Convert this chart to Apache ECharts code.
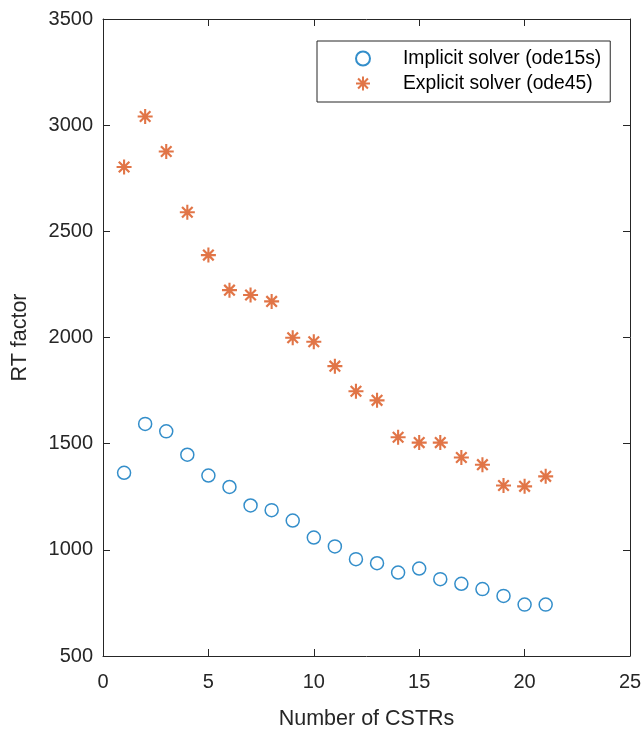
<!DOCTYPE html>
<html>
<head>
<meta charset="utf-8">
<script src="https://cdn.jsdelivr.net/npm/echarts@6/dist/echarts.min.js"></script>
<style>
  html, body { margin: 0; padding: 0; background: #ffffff; }
  #chart { width: 644px; height: 730px; }
</style>
</head>
<body>
<div id="chart"></div>
<script>
// ---- Data ----
const cstrCounts = [1, 2, 3, 4, 5, 6, 7, 8, 9, 10, 11, 12, 13, 14, 15, 16, 17, 18, 19, 20, 21];
const implicitRT = [1363, 1593, 1558, 1448, 1350, 1296, 1209, 1187, 1138, 1058, 1016, 956, 937, 893, 912, 862, 840, 815, 783, 742, 742];
const explicitRT = [2803, 3041, 2876, 2590, 2388, 2223, 2200, 2170, 1999, 1980, 1865, 1747, 1704, 1530, 1505, 1505, 1435, 1401, 1303, 1299, 1346];
const seriesNames = ['Implicit solver (ode15s)', 'Explicit solver (ode45)'];
const xName = 'Number of CSTRs';
const yName = 'RT factor';

// ---- Styling ----
const FONT = '"Liberation Sans", Arial, Helvetica, sans-serif';
const AX = '#262626';
const BLUE = '#0072BD';
const ORANGE = '#D95319';
const starPath = 'path://M43 0L57 0L57 100L43 100Z M0 43L100 43L100 57L0 57Z M9.5 20L20 9.5L90.5 80L80 90.5Z M80 9.5L90.5 20L20 90.5L9.5 80Z';

const pairs = (xs, ys) => xs.map((x, i) => [x, ys[i]]);

const chart = echarts.init(document.getElementById('chart'), null, { renderer: 'canvas' });

const baseX = {
  type: 'value', min: 0, max: 25, interval: 5,
  axisLine: { show: true, onZero: false, lineStyle: { color: AX, width: 1 } },
  axisTick: { show: true, inside: true, length: 7, lineStyle: { color: AX, width: 1 } },
  splitLine: { show: false }
};
const baseY = {
  type: 'value', min: 500, max: 3500, interval: 500,
  axisLine: { show: true, onZero: false, lineStyle: { color: AX, width: 1 } },
  axisTick: { show: true, inside: true, length: 7, lineStyle: { color: AX, width: 1 } },
  splitLine: { show: false }
};

chart.setOption({
  backgroundColor: '#ffffff',
  animation: false,
  textStyle: { fontFamily: FONT },
  grid: { left: 103, right: 14, top: 19, bottom: 74, containLabel: false, outerBoundsMode: 'none' },
  xAxis: [
    Object.assign({}, baseX, {
      position: 'bottom',
      name: xName, nameLocation: 'middle', nameGap: 52,
      nameTextStyle: { color: AX, fontSize: 21.5, fontFamily: FONT },
      axisLabel: { show: true, color: AX, fontSize: 20, fontFamily: FONT, margin: 16,
                   formatter: v => String(v) }
    }),
    Object.assign({}, baseX, { position: 'top', axisLabel: { show: false } })
  ],
  yAxis: [
    Object.assign({}, baseY, {
      position: 'left',
      name: yName, nameLocation: 'middle', nameGap: 72,
      nameTextStyle: { color: AX, fontSize: 21.5, fontFamily: FONT },
      axisLabel: { show: true, color: AX, fontSize: 20, fontFamily: FONT, margin: 10,
                   formatter: v => String(v) }
    }),
    Object.assign({}, baseY, { position: 'right', axisLabel: { show: false } })
  ],
  legend: {
    left: 317, top: 41,
    orient: 'vertical',
    data: seriesNames,
    itemWidth: 70, itemHeight: 14, itemGap: 6,
    padding: [8, 9, 9, 38],
    borderColor: AX, borderWidth: 1,
    backgroundColor: '#ffffff',
    textStyle: { color: '#000000', fontSize: 19.3, fontFamily: FONT }
  },
  series: [
    {
      name: seriesNames[0],
      type: 'scatter',
      xAxisIndex: 0, yAxisIndex: 0,
      symbol: 'circle', symbolSize: 13,
      itemStyle: { color: 'rgba(255,255,255,0)', borderColor: BLUE, borderWidth: 1.5 },
      data: pairs(cstrCounts, implicitRT)
    },
    {
      name: seriesNames[1],
      type: 'scatter',
      xAxisIndex: 0, yAxisIndex: 0,
      symbol: starPath, symbolSize: 15, symbolKeepAspect: true,
      itemStyle: { color: ORANGE, borderWidth: 0 },
      data: pairs(cstrCounts, explicitRT)
    }
  ]
});
</script>
</body>
</html>
